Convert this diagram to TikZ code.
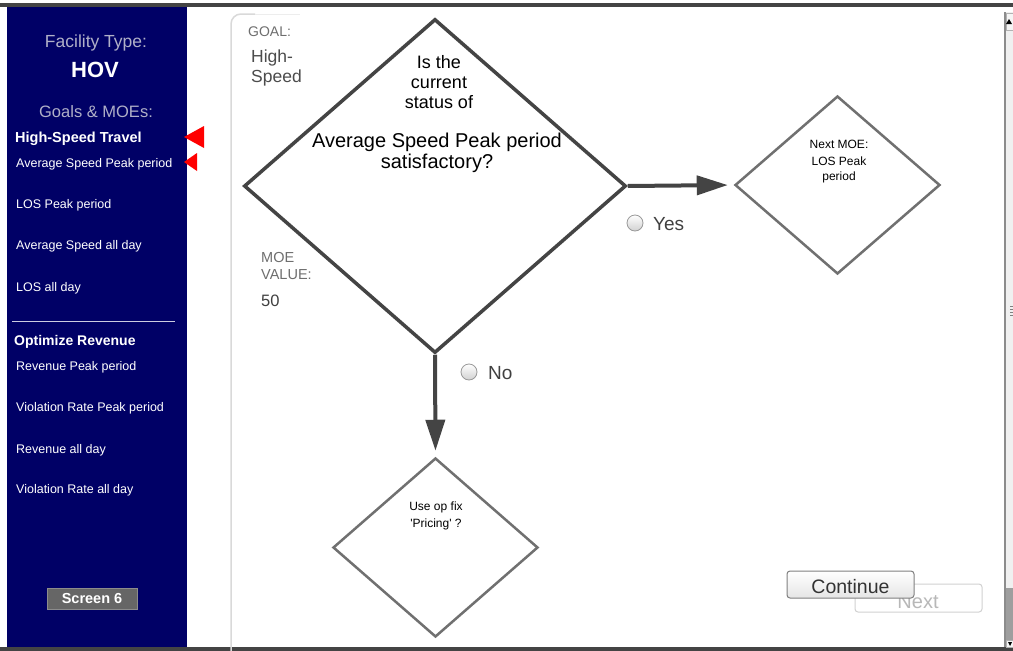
\documentclass[tikz,border=0pt]{standalone}
\usepackage{fontspec}
\setmainfont{Liberation Sans}
\usetikzlibrary{shapes.geometric,arrows.meta}
\definecolor{navy}{RGB}{0,0,102}
\definecolor{paneltxt}{RGB}{176,176,200}
\definecolor{dline}{RGB}{68,68,68}
\definecolor{lgray}{RGB}{112,112,112}
\definecolor{txtgray}{RGB}{110,110,110}
\newcommand{\fs}[1]{\fontsize{#1}{#1}\selectfont}
\tikzset{
  x=1pt,y=-1pt,
  side/.style={anchor=base west,inner sep=0,text=white,font=\fs{12.5}},
  sidehead/.style={anchor=base west,inner sep=0,text=white,font=\fs{14.5}\bfseries},
  redtri/.style={fill=red,draw=none},
  bigdia/.style={diamond,draw=dline,line width=3.5pt,minimum width=382pt,minimum height=334pt,inner sep=0},
  smalldia/.style={diamond,draw=lgray,line width=2.5pt,inner sep=0},
  flow/.style={draw=dline,line width=4pt,-{Triangle[length=31pt,width=19pt]},shorten >=6pt},
  qtxt/.style={anchor=base,inner sep=0,font=\fs{18}},
  smtxt/.style={anchor=base,inner sep=0,font=\fs{12}},
  graylab/.style={anchor=base west,inner sep=0,text=txtgray,font=\fs{14.5}},
  radio/.style={circle,minimum size=16pt,inner sep=0,draw=black!40,line width=0.8pt,top color=white,bottom color=black!18},
  opt/.style={anchor=base west,inner sep=0,text=black!75,font=\fs{19}},
}
\begin{document}
\begin{tikzpicture}
\useasboundingbox (0,0) rectangle (1013,651);
\fill[white] (0,0) rectangle (1013,651);
% frame lines
\fill[dline] (0,3) rectangle (1013,7);
\fill[dline] (0,647) rectangle (1013,651);
% left panel
\fill[navy] (7,7) rectangle (187,647);
\node[anchor=base,inner sep=0,text=paneltxt,font=\fs{17.5}] (ft) at (96,47) {Facility Type:};
\node[anchor=base,inner sep=0,text=white,font=\fs{22}\bfseries] (hov) at (95,77) {HOV};
\node[anchor=base,inner sep=0,text=paneltxt,font=\fs{16.5}] (gm) at (96,117) {Goals \& MOEs:};
\node[sidehead] (g1) at (15,142) {High-Speed Travel};
\node[side] (m1) at (16,167) {Average Speed Peak period};
\node[side] (m2) at (16,208) {LOS Peak period};
\node[side] (m3) at (16,249) {Average Speed all day};
\node[side] (m4) at (16,291) {LOS all day};
\draw[white!80!navy,line width=1pt] (12,321) -- (175,321);
\node[sidehead,font=\fs{14}\bfseries] (g2) at (14,345) {Optimize Revenue};
\node[side] (m5) at (16,370) {Revenue Peak period};
\node[side] (m6) at (16,411) {Violation Rate Peak period};
\node[side] (m7) at (16,453) {Revenue all day};
\node[side] (m8) at (16,493) {Violation Rate all day};
\node[fill=black!60,draw=black!45,minimum width=90pt,minimum height=21pt,inner sep=0,text=white,font=\fs{14.5}\bfseries] (scr) at (92,599) {Screen 6};
% red markers
\fill[redtri] (184,137) -- (204,126) -- (204,148) -- cycle;
\fill[redtri] (184,162) -- (197,153) -- (197,171) -- cycle;
% inner panel border
\draw[black!15,line width=1.5pt,rounded corners=10pt] (231,651) -- (231,14) -- (255,14);
\draw[black!7,line width=1pt] (255,14) -- (300,14);
% scrollbar
\fill[black!6] (1005,12) rectangle (1013,647);
\draw[black!45,line width=1.5pt] (1005,12) -- (1005,647);
\fill[black!38] (1006,588) rectangle (1013,640);
\draw[black!30,fill=black!4] (1006,13) rectangle (1013,30);
\fill[black] (1009,19) -- (1012,24) -- (1006,24) -- cycle;
\draw[black!30,fill=black!4] (1006,640) rectangle (1013,647);
\fill[black] (1010,646) -- (1012,642) -- (1008,642) -- cycle;
\foreach \yy in {306,309,312,315} \draw[black!50,line width=0.8pt] (1010,\yy) -- (1013,\yy);
% labels in main area
\node[graylab,font=\fs{14}] (goal) at (248,36) {GOAL:};
\node[anchor=base west,inner sep=0,text=black!70,font=\fs{17.5}] (gv1) at (251,62) {High-};
\node[anchor=base west,inner sep=0,text=black!70,font=\fs{17.5}] (gv2) at (251,82) {Speed};
\node[graylab] (moe1) at (261,262) {MOE};
\node[graylab] (moe2) at (261,279) {VALUE:};
\node[anchor=base west,inner sep=0,text=black!75,font=\fs{16.5}] (val) at (261,306) {50};
% diamonds
\node[bigdia] (d1) at (435,186) {};
\node[smalldia,minimum width=205pt,minimum height=178pt] (d2) at (837.5,185) {};
\node[smalldia,minimum width=205pt,minimum height=179pt] (d3) at (435.5,547.5) {};
% connectors
\draw[flow] (d1.east) -- (d2.west);
\draw[flow] (d1.south) -- (d3.north);
% question text
\node[qtxt] (q1) at (439,68) {Is the};
\node[qtxt] (q2) at (439,88) {current};
\node[qtxt] (q3) at (439,108) {status of};
\node[qtxt,font=\fs{20}] (q4) at (437,147) {Average Speed Peak period};
\node[qtxt,font=\fs{20}] (q5) at (437,168) {satisfactory?};
\node[smtxt] (n1) at (839,148) {Next MOE:};
\node[smtxt] (n2) at (839,165) {LOS Peak};
\node[smtxt] (n3) at (839,180) {period};
\node[smtxt] (u1) at (436,510) {Use op fix};
\node[smtxt] (u2) at (436,527) {\textquotesingle Pricing\textquotesingle\ ?};
% radios
\node[radio] (ry) at (635,223) {};
\node[opt] (yes) at (653,230) {Yes};
\node[radio] (rn) at (469,372) {};
\node[opt] (no) at (488,379) {No};
% buttons
\draw[black!18,line width=1pt,rounded corners=3pt,fill=white] (855,584) rectangle (982,612);
\node[anchor=base,inner sep=0,text=black!28,font=\fs{20}] (nx) at (918,608) {Next};
\draw[black!50,line width=1pt,rounded corners=3pt,top color=white,bottom color=black!10] (787,571) rectangle (914,598);
\node[anchor=base,inner sep=0,text=black!80,font=\fs{19.5}] (cont) at (850.5,593) {Continue};
\end{tikzpicture}
\end{document}
